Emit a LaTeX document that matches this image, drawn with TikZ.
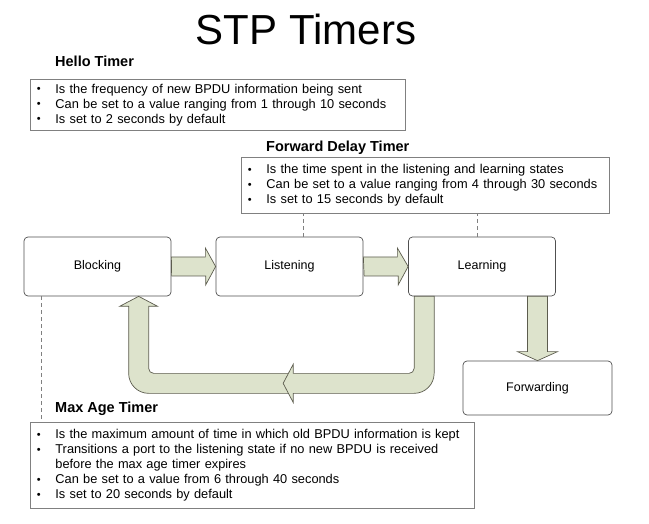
\documentclass[tikz,border=0pt]{standalone}
\usepackage{fontspec}
\setmainfont{Liberation Sans}
\usetikzlibrary{calc}
\definecolor{SageFill}{HTML}{DDE3CC}
\definecolor{SageLine}{HTML}{5C5C4E}
\definecolor{FrameGray}{HTML}{808080}
\definecolor{StateLine}{HTML}{505050}
\newcommand{\bul}{\makebox[19pt][l]{\hspace{0.5pt}\raisebox{0.4pt}{\fontsize{11}{11}\selectfont\textbullet}}}

\begin{document}
\begin{tikzpicture}[x=1pt, y=-1pt,
  state/.style={rounded corners=4pt, draw=StateLine, line width=0.7pt, fill=white,
                minimum width=147pt, minimum height=59pt, font=\fontsize{12.5}{15}\selectfont},
  timerbox/.style={draw=FrameGray, line width=0.8pt, anchor=north west, inner xsep=6pt,
                   inner ysep=0pt, align=left, font=\fontsize{12.8}{15}\selectfont},
  timerlbl/.style={anchor=base west, inner sep=0pt, font=\fontsize{14.5}{17}\selectfont\bfseries},
  bandarr/.style={fill=SageFill, draw=SageLine, line width=0.7pt, line join=miter},
  dashline/.style={draw=FrameGray, line width=0.7pt, dash pattern=on 4pt off 3pt},
]
  \useasboundingbox (0,0) rectangle (649,524);

  \node[anchor=base, font=\fontsize{42}{48}\selectfont] (title) at (306,45) {STP Timers};

  \node[timerlbl] (hellolbl) at (55,67) {Hello Timer};
  \node[timerbox, text width=363pt, minimum height=51pt] (hello) at (30,79)
    {\bul Is the frequency of new BPDU information being sent\\
     \bul Can be set to a value ranging from 1 through 10 seconds\\
     \bul Is set to 2 seconds by default};

  \node[timerlbl] (fdllbl) at (266,152) {Forward Delay Timer};
  \node[timerbox, text width=356pt, minimum height=56pt] (fdl) at (241,157)
    {\bul Is the time spent in the listening and learning states\\
     \bul Can be set to a value ranging from 4 through 30 seconds\\
     \bul Is set to 15 seconds by default};

  \node[timerlbl] (matlbl) at (55,413) {Max Age Timer};
  \node[timerbox, text width=432pt, minimum height=86pt] (mat) at (30,422)
    {\bul Is the maximum amount of time in which old BPDU information is kept\\
     \bul Transitions a port to the listening state if no new BPDU is received\\
     \hspace*{19pt}before the max age timer expires\\
     \bul Can be set to a value from 6 through 40 seconds\\
     \bul Is set to 20 seconds by default};

  \node[state] (blk) at (97.5,266.5) {Blocking};
  \node[state] (lis) at (289.5,266.5) {Listening};
  \node[state] (lrn) at (482,266.5) {Learning};
  \node[state, minimum width=149pt, minimum height=54pt] (frw) at (537.5,388) {Forwarding};

  \draw[dashline] ($(lis.north)+(13.5,0)$) coordinate (d1) -- (d1 |- fdl.south);
  \draw[dashline] ($(lrn.north)+(-5,0)$) coordinate (d2) -- (d2 |- fdl.south);
  \draw[dashline] ($(blk.south west)+(18,0)$) coordinate (d3) -- (d3 |- mat.north);

  \draw[bandarr] ($(blk.east)+(0,-9.5)$) -- ++(34,0) -- ++(0,-9) -- (lis.west)
    -- ++(-10,18.5) -- ++(0,-9) -- ++(-34,0) -- cycle;
  \draw[bandarr] ($(lis.east)+(0,-9.5)$) -- ++(34,0) -- ++(0,-9) -- (lrn.west)
    -- ++(-10,18.5) -- ++(0,-9) -- ++(-34,0) -- cycle;
  \draw[bandarr] (frw.north) -- ++(-20,-9) -- ++(10,0) -- ($(frw.north |- lrn.south)+(-10,0)$)
    -- ++(20,0) -- ($(frw.north)+(10,-9)$) -- ++(10,0) -- cycle;

  \draw[bandarr] ($(blk.south west)+(115,0)$) -- ++(19,10) -- ++(-9,0) -- ++(0,62)
    arc[start angle=180, end angle=90, radius=5] -- ++(137,0) -- ++(0,20) -- ++(-142,0)
    arc[start angle=90, end angle=180, radius=20] -- ++(0,-67) -- ++(-9,0) -- cycle;
  \draw[bandarr] ($(lrn.south west)+(6,0)$) -- ++(0,72)
    arc[start angle=0, end angle=90, radius=5] -- ++(-116,0) -- ++(0,-9) -- ++(-10,19)
    -- ++(10,19) -- ++(0,-9) -- ++(121,0)
    arc[start angle=90, end angle=0, radius=20] -- ++(0,-77) -- cycle;
\end{tikzpicture}
\end{document}
